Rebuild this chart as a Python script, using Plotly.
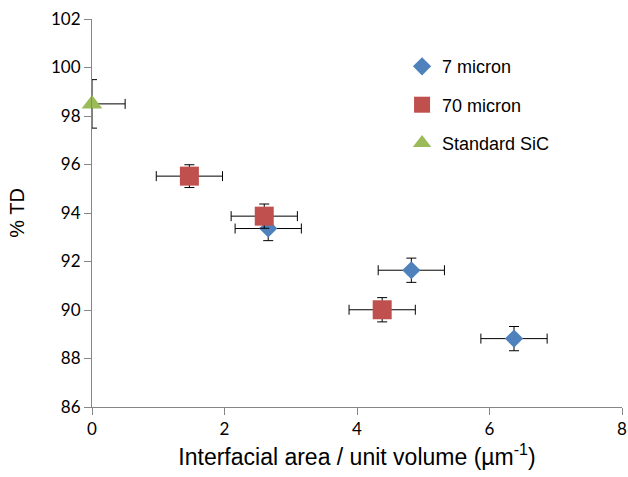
import plotly.graph_objects as go

# Data
series_names = ["7 micron", "70 micron", "Standard SiC"]

x_7um = [2.66, 4.82, 6.37]
y_7um = [93.36, 91.64, 88.82]
xerr_7um = [0.5, 0.5, 0.5]
yerr_7um = [0.5, 0.5, 0.5]

x_70um = [1.47, 2.60, 4.38]
y_70um = [95.52, 93.87, 90.01]
xerr_70um = [0.5, 0.5, 0.5]
yerr_70um = [0.47, 0.5, 0.5]

x_sic = [0.0]
y_sic = [98.5]
xerr_sic_plus = [0.5]
xerr_sic_minus = [0.0]
yerr_sic = [1.0]

x_ticks = [0, 2, 4, 6, 8]
y_ticks = [86, 88, 90, 92, 94, 96, 98, 100, 102]

colors = ["#4F81BD", "#C0504D", "#9BBB59"]
err_style = dict(color="#000000", thickness=1, width=5)

fig = go.Figure()

fig.add_trace(go.Scatter(
    x=x_7um, y=y_7um, mode="markers", name=series_names[0], legendgroup="a",
    marker=dict(symbol="diamond", size=14, color=colors[0]),
    error_x=dict(type="data", array=xerr_7um, visible=True, **err_style),
    error_y=dict(type="data", array=yerr_7um, visible=True, **err_style),
    cliponaxis=False,
))
fig.add_trace(go.Scatter(
    x=x_70um, y=y_70um, mode="markers", name=series_names[1], legendgroup="b",
    marker=dict(symbol="square", size=19, color=colors[1]),
    error_x=dict(type="data", array=xerr_70um, visible=True, **err_style),
    error_y=dict(type="data", array=yerr_70um, visible=True, **err_style),
    cliponaxis=False,
))
fig.add_trace(go.Scatter(
    x=x_sic, y=y_sic, mode="markers", name=series_names[2], legendgroup="c",
    marker=dict(symbol="triangle-up", size=18, color=colors[2]),
    error_x=dict(type="data", symmetric=False, array=xerr_sic_plus,
                 arrayminus=xerr_sic_minus, visible=True, **err_style),
    error_y=dict(type="data", array=yerr_sic, visible=True, **err_style),
    cliponaxis=False,
))

axis_common = dict(
    showgrid=False, zeroline=False, showline=True, linecolor="#868686",
    linewidth=1, ticks="outside", ticklen=7, tickcolor="#868686",
    tickfont=dict(family="Lato", size=17, color="#000000"),
    automargin=False,
)

fig.update_layout(
    width=628, height=477,
    margin=dict(l=92, r=6, t=19, b=70),
    paper_bgcolor="white", plot_bgcolor="white",
    xaxis=dict(range=[0, 8], tickvals=x_ticks,
               title=dict(text="Interfacial area / unit volume (µm<sup>-1</sup>)",
                          font=dict(family="Liberation Sans", size=23, color="#000000"),
                          standoff=10),
               **axis_common),
    yaxis=dict(range=[86, 102], tickvals=y_ticks,
               title=dict(text="% TD",
                          font=dict(family="Liberation Sans", size=20, color="#000000"),
                          standoff=21),
               **axis_common),
    legend=dict(x=0.585, y=0.925, xanchor="left", yanchor="top",
                font=dict(family="Liberation Sans", size=18, color="#000000"),
                tracegroupgap=12, bgcolor="rgba(0,0,0,0)"),
    showlegend=True,
)

fig.write_html("out.html")
